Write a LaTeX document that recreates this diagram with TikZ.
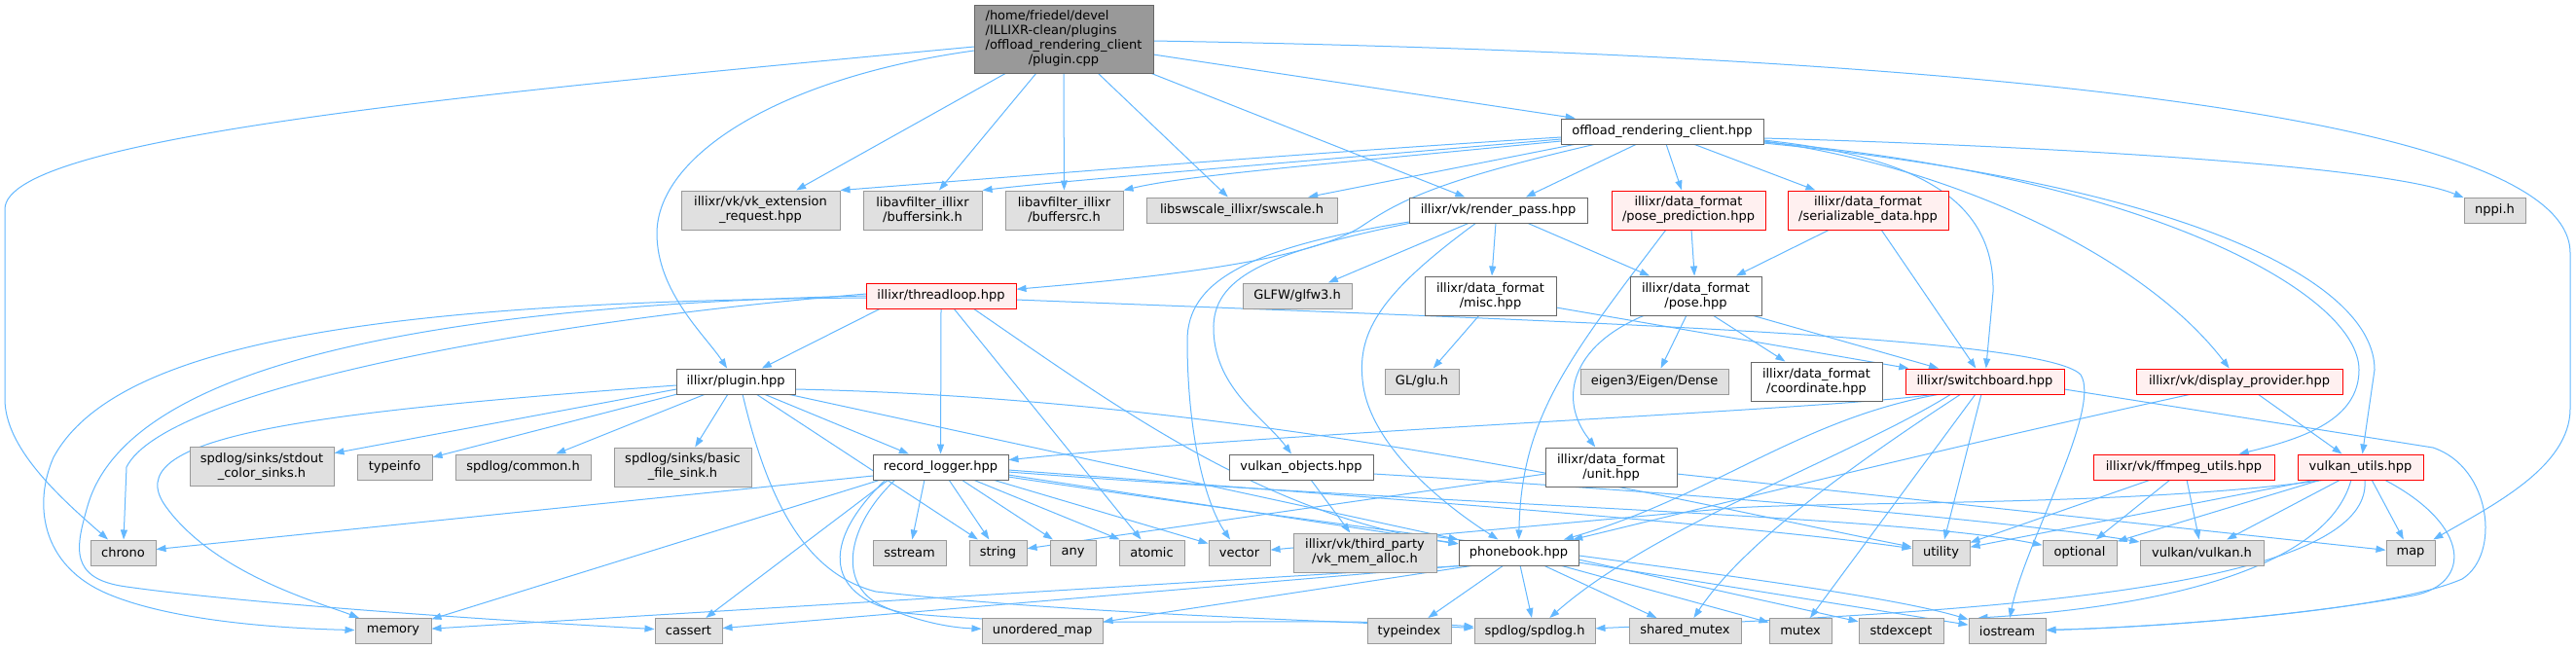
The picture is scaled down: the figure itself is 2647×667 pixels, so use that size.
\documentclass[tikz,border=0pt]{standalone}
\usepackage{fontspec}
\setmainfont{DejaVu Sans}
\usetikzlibrary{arrows.meta}
\newcommand\dxfont{\fontsize{13}{15}\selectfont}
\definecolor{extfill}{HTML}{E0E0E0}
\definecolor{extdraw}{HTML}{999999}
\definecolor{locdraw}{HTML}{666666}
\definecolor{trfill}{HTML}{FFF0F0}
\definecolor{trdraw}{HTML}{FF0000}
\definecolor{mainfill}{HTML}{999999}
\definecolor{edgec}{HTML}{63B8FF}
\pgfdeclarelayer{bg}
\pgfsetlayers{bg,main}
\tikzset{
  nb/.style={draw, line width=1pt, inner sep=0pt, align=center, font=\dxfont, minimum height=26pt},
  gx/.style={nb, fill=extfill, draw=extdraw},
  wx/.style={nb, fill=white, draw=locdraw},
  rx/.style={nb, fill=trfill, draw=trdraw},
  mx/.style={nb, fill=mainfill, draw=locdraw},
  tw/.style={minimum height=40pt},
  ed/.style={draw=edgec, line width=1pt, -{Triangle[length=10pt,width=7pt]}},
}
\begin{document}
\begin{tikzpicture}[x=1pt,y=-1pt]
\useasboundingbox (0,0) rectangle (2647,667);
\begin{pgfonlayer}{bg}
\fill[white] (0,0) rectangle (2647,667);
\end{pgfonlayer}
% ---------- nodes ----------
\node[mx, minimum width=184pt, minimum height=70pt] (main) at (1093,40) {\begin{tabular}{@{}l@{}}/home/friedel/devel\\/ILLIXR-clean/plugins\\/offload\_rendering\_client\\\multicolumn{1}{@{}c@{}}{/plugin.cpp}\end{tabular}};
\node[wx, minimum width=208pt] (offload) at (1708,135) {offload\_rendering\_client.hpp};
\node[gx, tw, minimum width=163pt] (vkext) at (781.5,216) {illixr/vk/vk\_extension\\\_request.hpp};
\node[gx, tw, minimum width=122pt] (bsink) at (948,216) {libavfilter\_illixr\\/buffersink.h};
\node[gx, tw, minimum width=121pt] (bsrc) at (1093.5,216) {libavfilter\_illixr\\/buffersrc.h};
\node[gx, minimum width=196pt] (swscale) at (1276,216) {libswscale\_illixr/swscale.h};
\node[wx, minimum width=183pt] (rpass) at (1539.5,216) {illixr/vk/render\_pass.hpp};
\node[rx, tw, minimum width=158pt] (posepred) at (1735,216) {illixr/data\_format\\/pose\_prediction.hpp};
\node[rx, tw, minimum width=165pt] (serial) at (1919.5,216) {illixr/data\_format\\/serializable\_data.hpp};
\node[gx, minimum width=63pt] (nppi) at (2563.5,216) {nppi.h};
\node[rx, minimum width=154pt] (thread) at (967,304) {illixr/threadloop.hpp};
\node[gx, minimum width=112pt] (glfw) at (1333,304) {GLFW/glfw3.h};
\node[wx, tw, minimum width=135pt] (misc) at (1531.5,304) {illixr/data\_format\\/misc.hpp};
\node[wx, tw, minimum width=135pt] (pose) at (1742.5,304) {illixr/data\_format\\/pose.hpp};
\node[wx, minimum width=122pt] (plugin) at (756,392) {illixr/plugin.hpp};
\node[gx, minimum width=76pt] (glu) at (1461,392) {GL/glu.h};
\node[gx, minimum width=152pt] (eigen) at (1700,392) {eigen3/Eigen/Dense};
\node[wx, tw, minimum width=135pt] (coord) at (1866.5,392) {illixr/data\_format\\/coordinate.hpp};
\node[rx, minimum width=163pt] (switch) at (2039.5,392) {illixr/switchboard.hpp};
\node[rx, minimum width=212pt] (display) at (2301,392) {illixr/vk/display\_provider.hpp};
\node[gx, tw, minimum width=148pt] (stdout) at (269,479.5) {spdlog/sinks/stdout\\\_color\_sinks.h};
\node[gx, minimum width=77pt] (typeinfo) at (405.5,480) {typeinfo};
\node[gx, minimum width=139pt] (common) at (537.5,480) {spdlog/common.h};
\node[gx, tw, minimum width=141pt] (basicfile) at (701.5,480) {spdlog/sinks/basic\\\_file\_sink.h};
\node[wx, minimum width=139pt] (rlog) at (966.5,480) {record\_logger.hpp};
\node[wx, minimum width=148pt] (vkobj) at (1337,480) {vulkan\_objects.hpp};
\node[wx, tw, minimum width=135pt] (unit) at (1655.5,480) {illixr/data\_format\\/unit.hpp};
\node[rx, minimum width=186pt] (ffmpeg) at (2244,480) {illixr/vk/ffmpeg\_utils.hpp};
\node[rx, minimum width=129pt] (vkutils) at (2425.5,480) {vulkan\_utils.hpp};
\node[gx, minimum width=67pt] (chrono) at (126.5,568) {chrono};
\node[gx, minimum width=75pt] (sstream) at (934.5,568) {sstream};
\node[gx, minimum width=59pt] (string) at (1025.5,568) {string};
\node[gx, minimum width=47pt] (any) at (1102.5,568) {any};
\node[gx, minimum width=67pt] (atomic) at (1183.5,568) {atomic};
\node[gx, minimum width=63pt] (vector) at (1273.5,568) {vector};
\node[gx, tw, minimum width=147pt] (vkmem) at (1402.5,568) {illixr/vk/third\_party\\/vk\_mem\_alloc.h};
\node[wx, minimum width=123pt] (phonebook) at (1560.5,568) {phonebook.hpp};
\node[gx, minimum width=59pt] (utility) at (1994.5,568) {utility};
\node[gx, minimum width=76pt] (optional) at (2137,568) {optional};
\node[gx, minimum width=127pt] (vulkanh) at (2262.5,568) {vulkan/vulkan.h};
\node[gx, minimum width=50pt] (map) at (2477,568) {map};
\node[gx, minimum width=78pt] (memory) at (404,648.5) {memory};
\node[gx, minimum width=69pt] (cassert) at (707.5,648.5) {cassert};
\node[gx, minimum width=124pt] (umap) at (1071,648.5) {unordered\_map};
\node[gx, minimum width=86pt] (typeindex) at (1448,648.5) {typeindex};
\node[gx, minimum width=124pt] (spdlog) at (1577,648.5) {spdlog/spdlog.h};
\node[gx, minimum width=115pt] (shmutex) at (1731.5,648.5) {shared\_mutex};
\node[gx, minimum width=64pt] (mutex) at (1850,648.5) {mutex};
\node[gx, minimum width=87pt] (stdexcept) at (1953.5,648.5) {stdexcept};
\node[gx, minimum width=79pt] (iostream) at (2062.5,648.5) {iostream};
% ---------- edges ----------
\begin{pgfonlayer}{bg}
% main
\draw[ed] ([shift={(-92,8)}]main.center) .. controls (500,95) and (5,140) .. (5,215) -- (5,410) .. controls (5,460) and (60,510) .. (chrono);
\draw[ed] ([shift={(-59,35)}]main.center) -- (vkext);
\draw[ed] ([shift={(-28,35)}]main.center) -- (bsink);
\draw[ed] ([shift={(0,35)}]main.center) -- (bsrc);
\draw[ed] ([shift={(35,35)}]main.center) -- (swscale);
\draw[ed] ([shift={(89,35)}]main.center) -- (rpass);
\draw[ed] ([shift={(92,16)}]main.center) -- (offload);
\draw[ed] ([shift={(-92,12)}]main.center) .. controls (800,80) and (675,160) .. (675,240) .. controls (675,300) and (725,345) .. (plugin);
\draw[ed] ([shift={(92,2)}]main.center) .. controls (1950,55) and (2641,110) .. (2641,260) -- (2641,420) .. controls (2641,480) and (2560,520) .. (map);
% offload
\draw[ed] ([shift={(-104,6)}]offload.center) .. controls (1300,160) and (1000,185) .. (vkext.north east);
\draw[ed] ([shift={(-104,8)}]offload.center) .. controls (1350,165) and (1100,185) .. (bsink.north east);
\draw[ed] ([shift={(-104,10)}]offload.center) .. controls (1350,170) and (1220,180) .. (bsrc.north east);
\draw[ed] ([shift={(-88,13)}]offload.center) -- (swscale);
\draw[ed] ([shift={(-68,13)}]offload.center) .. controls (1480,185) and (1440,205) .. (1400,232) .. controls (1340,272) and (1150,288) .. (thread);
\draw[ed] ([shift={(-26,13)}]offload.center) -- (rpass);
\draw[ed] ([shift={(4,13)}]offload.center) -- (posepred);
\draw[ed] ([shift={(32,13)}]offload.center) -- (serial);
\draw[ed] ([shift={(104,7)}]offload.center) .. controls (2100,150) and (2450,170) .. (nppi);
\draw[ed] ([shift={(104,9)}]offload.center) .. controls (1960,160) and (2050,200) .. (2048,300) -- (switch);
\draw[ed] ([shift={(104,10)}]offload.center) .. controls (2000,170) and (2200,260) .. (display);
\draw[ed] ([shift={(104,11)}]offload.center) .. controls (2200,180) and (2424,300) .. (2424,380) .. controls (2424,430) and (2370,450) .. (ffmpeg);
\draw[ed] ([shift={(104,12)}]offload.center) .. controls (2250,190) and (2440,290) .. (2440,380) -- (vkutils);
% render_pass
\draw[ed] ([shift={(-29.5,13)}]rpass.center) -- (glfw);
\draw[ed] ([shift={(-2.5,13)}]rpass.center) -- (misc);
\draw[ed] ([shift={(29.5,13)}]rpass.center) -- (pose);
\draw[ed] ([shift={(-22.5,13)}]rpass.center) .. controls (1420,300) and (1395,340) .. (1400,390) .. controls (1405,450) and (1470,510) .. (phonebook);
\draw[ed] ([shift={(-89.5,13)}]rpass.center) .. controls (1300,260) and (1245,285) .. (1247,340) .. controls (1249,400) and (1300,430) .. (vkobj);
\draw[ed] ([shift={(-91.5,12)}]rpass.center) .. controls (1280,255) and (1220,290) .. (1220,350) .. controls (1220,450) and (1240,520) .. (vector);
% pose_prediction, serializable
\draw[ed] ([shift={(3,20)}]posepred.center) -- (pose);
\draw[ed] ([shift={(-23,20)}]posepred.center) .. controls (1610,370) and (1563,430) .. (phonebook);
\draw[ed] ([shift={(-39.5,20)}]serial.center) -- (pose);
\draw[ed] ([shift={(13.5,20)}]serial.center) -- (switch);
% threadloop
\draw[ed] ([shift={(-62,13)}]thread.center) -- (plugin);
\draw[ed] ([shift={(0,13)}]thread.center) -- (rlog);
\draw[ed] ([shift={(13,13)}]thread.center) -- (atomic);
\draw[ed] ([shift={(33,13)}]thread.center) .. controls (1150,420) and (1300,530) .. (phonebook);
\draw[ed] ([shift={(-77,-2)}]thread.center) .. controls (550,330) and (170,400) .. (130,480) -- (chrono);
\draw[ed] ([shift={(-77,2)}]thread.center) .. controls (400,310) and (120,350) .. (55,470) .. controls (35,515) and (40,580) .. (110,610) .. controls (180,640) and (300,646) .. (memory);
\draw[ed] ([shift={(-77,0)}]thread.center) .. controls (420,315) and (130,380) .. (90,520) .. controls (78,562) and (70,595) .. (130,603) .. controls (250,620) and (500,637) .. (cassert);
\draw[ed] ([shift={(77,4)}]thread.center) .. controls (1600,330) and (2100,345) .. (2138,385) .. controls (2160,420) and (2080,560) .. (iostream);
% misc, pose
\draw[ed] ([shift={(67.5,12)}]misc.center) -- (switch);
\draw[ed] ([shift={(-11.5,20)}]misc.center) -- (glu);
\draw[ed] ([shift={(-9.5,20)}]pose.center) -- (eigen);
\draw[ed] ([shift={(17.5,20)}]pose.center) -- (coord);
\draw[ed] ([shift={(57.5,20)}]pose.center) -- (switch);
\draw[ed] ([shift={(-52.5,20)}]pose.center) .. controls (1615,355) and (1600,410) .. (unit);
% plugin
\draw[ed] ([shift={(-61,4)}]plugin.center) .. controls (300,425) and (120,450) .. (170,520) .. controls (220,590) and (330,620) .. (memory);
\draw[ed] ([shift={(-61,8)}]plugin.center) -- (stdout);
\draw[ed] ([shift={(-56,12)}]plugin.center) -- (typeinfo);
\draw[ed] ([shift={(-31,13)}]plugin.center) -- (common);
\draw[ed] ([shift={(-8,13)}]plugin.center) -- (basicfile);
\draw[ed] ([shift={(29,13)}]plugin.center) -- (rlog);
\draw[ed] ([shift={(21,13)}]plugin.center) -- (string);
\draw[ed] ([shift={(53,13)}]plugin.center) -- (phonebook);
\draw[ed] ([shift={(61,8)}]plugin.center) .. controls (1300,410) and (1750,520) .. (utility);
\draw[ed] ([shift={(7,13)}]plugin.center) .. controls (790,520) and (830,590) .. (900,608) .. controls (1100,630) and (1300,635) .. (spdlog);
% record_logger
\draw[ed] ([shift={(-69.5,9)}]rlog.center) -- (chrono);
\draw[ed] ([shift={(-61.5,13)}]rlog.center) -- (memory);
\draw[ed] ([shift={(-53.5,13)}]rlog.center) -- (cassert);
\draw[ed] ([shift={(-16.5,13)}]rlog.center) -- (sstream);
\draw[ed] ([shift={(8.5,13)}]rlog.center) -- (string);
\draw[ed] ([shift={(21.5,13)}]rlog.center) -- (any);
\draw[ed] ([shift={(33.5,13)}]rlog.center) -- (atomic);
\draw[ed] ([shift={(53.5,13)}]rlog.center) -- (vector);
\draw[ed] ([shift={(69.5,8)}]rlog.center) -- (phonebook);
\draw[ed] ([shift={(-46.5,13)}]rlog.center) .. controls (870,540) and (860,600) .. (905,622) .. controls (940,638) and (975,645) .. (umap);
\draw[ed] ([shift={(-56.5,13)}]rlog.center) .. controls (840,560) and (850,615) .. (930,630) .. controls (1100,648) and (1350,632) .. (spdlog);
\draw[ed] ([shift={(69.5,3)}]rlog.center) .. controls (1400,510) and (1800,540) .. (utility);
\draw[ed] ([shift={(69.5,5)}]rlog.center) .. controls (1500,520) and (1950,530) .. (optional);
\draw[ed] ([shift={(69.5,10)}]rlog.center) .. controls (1500,560) and (1900,600) .. (iostream);
% phonebook
\draw[ed] ([shift={(-50.5,13)}]phonebook.center) -- (memory);
\draw[ed] ([shift={(-55.5,13)}]phonebook.center) -- (cassert);
\draw[ed] ([shift={(-45.5,13)}]phonebook.center) -- (umap);
\draw[ed] ([shift={(-15.5,13)}]phonebook.center) -- (typeindex);
\draw[ed] ([shift={(1.5,13)}]phonebook.center) -- (spdlog);
\draw[ed] ([shift={(25.5,13)}]phonebook.center) -- (shmutex);
\draw[ed] ([shift={(42.5,13)}]phonebook.center) -- (mutex);
\draw[ed] ([shift={(61.5,7)}]phonebook.center) -- (stdexcept);
\draw[ed] ([shift={(61.5,10)}]phonebook.center) -- (iostream);
% switchboard
\draw[ed] ([shift={(-51.5,13)}]switch.center) .. controls (1900,420) and (1300,445) .. (rlog);
\draw[ed] ([shift={(-45.5,13)}]switch.center) .. controls (1850,430) and (1760,510) .. (phonebook);
\draw[ed] ([shift={(-34.5,13)}]switch.center) .. controls (1900,470) and (1700,540) .. (spdlog);
\draw[ed] ([shift={(-24.5,13)}]switch.center) .. controls (1900,480) and (1790,560) .. (shmutex);
\draw[ed] ([shift={(-9.5,13)}]switch.center) -- (mutex);
\draw[ed] ([shift={(-3.5,13)}]switch.center) -- (utility);
\draw[ed] ([shift={(81.5,8)}]switch.center) -- (2500,460) .. controls (2560,480) and (2570,570) .. (2530,595) .. controls (2450,630) and (2200,645) .. (iostream);
% display_provider, ffmpeg, vulkan_utils
\draw[ed] ([shift={(-49,13)}]display.center) .. controls (2000,460) and (1800,510) .. (phonebook);
\draw[ed] ([shift={(19,13)}]display.center) -- (vkutils);
\draw[ed] ([shift={(-34,13)}]ffmpeg.center) -- (utility);
\draw[ed] ([shift={(-14,13)}]ffmpeg.center) -- (optional);
\draw[ed] ([shift={(3,13)}]ffmpeg.center) -- (vulkanh);
\draw[ed] ([shift={(-45.5,13)}]vkutils.center) -- (utility);
\draw[ed] ([shift={(-40.5,13)}]vkutils.center) -- (optional);
\draw[ed] ([shift={(-20.5,13)}]vkutils.center) -- (vulkanh);
\draw[ed] ([shift={(11.5,13)}]vkutils.center) -- (map);
\draw[ed] ([shift={(-9.5,13)}]vkutils.center) .. controls (2390,590) and (2200,625) .. ([xshift=-30pt]iostream.north);
\draw[ed] ([shift={(4.5,13)}]vkutils.center) .. controls (2440,610) and (2000,630) .. (spdlog);
\draw[ed] ([shift={(24.5,13)}]vkutils.center) .. controls (2540,540) and (2540,600) .. (2480,612) .. controls (2350,635) and (2200,645) .. (iostream);
\draw[ed] ([shift={(-35.5,13)}]vkutils.center) .. controls (2200,520) and (1900,515) .. (1780,522) -- (vector);
% unit, vulkan_objects
\draw[ed] ([shift={(-67.5,7)}]unit.center) -- (string);
\draw[ed] ([shift={(67.5,7)}]unit.center) -- (map);
\draw[ed] ([shift={(10,13)}]vkobj.center) -- (vkmem);
\draw[ed] ([shift={(74,7)}]vkobj.center) .. controls (1800,510) and (2100,540) .. (vulkanh);
\end{pgfonlayer}
\end{tikzpicture}
\end{document}
